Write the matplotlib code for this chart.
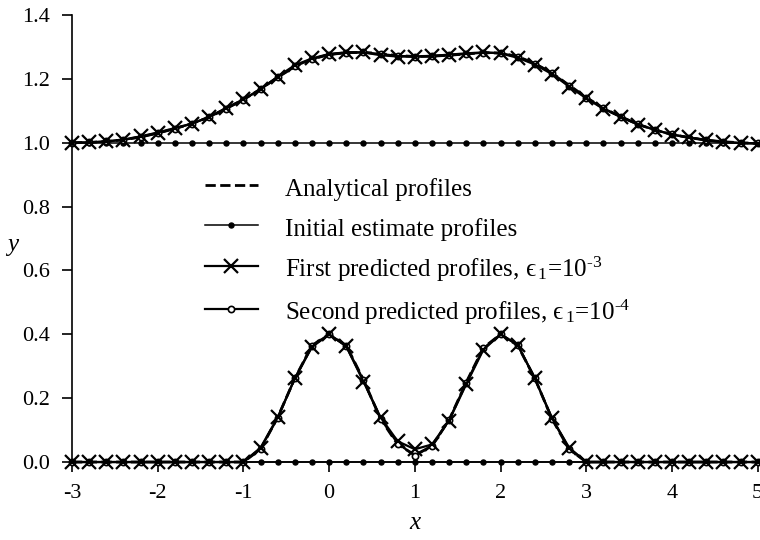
import matplotlib
matplotlib.use("Agg")
import matplotlib.pyplot as plt

plt.rcParams['font.family'] = ['Liberation Serif', 'DejaVu Serif']
plt.rcParams['mathtext.fontset'] = 'custom'
plt.rcParams['mathtext.rm'] = 'Liberation Serif'
plt.rcParams['mathtext.it'] = 'Liberation Serif:italic'
plt.rcParams['axes.unicode_minus'] = False

# ---- data ----
x_nodes = [-3.0, -2.8, -2.6, -2.4, -2.2, -2.0, -1.8, -1.6, -1.4, -1.2,
           -1.0, -0.8, -0.6, -0.4, -0.2, 0.0, 0.2, 0.4, 0.6, 0.8,
           1.0, 1.2, 1.4, 1.6, 1.8, 2.0, 2.2, 2.4, 2.6, 2.8,
           3.0, 3.2, 3.4, 3.6, 3.8, 4.0, 4.2, 4.4, 4.6, 4.8, 5.0]

upper_analytical = [1.000, 1.001, 1.004, 1.009, 1.018, 1.030, 1.044, 1.060, 1.080, 1.107,
                    1.135, 1.168, 1.205, 1.238, 1.262, 1.276, 1.282, 1.283, 1.279, 1.273,
                    1.270, 1.271, 1.274, 1.278, 1.282, 1.281, 1.270, 1.248, 1.218, 1.180,
                    1.142, 1.108, 1.082, 1.058, 1.040, 1.026, 1.016, 1.008, 1.003, 1.000, 0.998]
upper_first = [1.000, 1.001, 1.004, 1.010, 1.020, 1.032, 1.046, 1.060, 1.081, 1.109,
               1.136, 1.167, 1.207, 1.243, 1.264, 1.278, 1.283, 1.283, 1.274, 1.270,
               1.270, 1.272, 1.276, 1.280, 1.283, 1.280, 1.266, 1.245, 1.215, 1.176,
               1.139, 1.106, 1.081, 1.057, 1.041, 1.025, 1.017, 1.008, 1.002, 0.999, 0.997]
upper_second = [1.000, 1.001, 1.004, 1.009, 1.018, 1.030, 1.044, 1.060, 1.080, 1.107,
                1.135, 1.168, 1.205, 1.239, 1.262, 1.276, 1.282, 1.283, 1.278, 1.272,
                1.270, 1.271, 1.274, 1.278, 1.282, 1.281, 1.269, 1.248, 1.218, 1.179,
                1.141, 1.108, 1.082, 1.058, 1.040, 1.026, 1.016, 1.008, 1.003, 0.999, 0.998]

lower_analytical = [0.0, 0.0, 0.0, 0.0, 0.0, 0.0, 0.0, 0.0, 0.0, 0.0,
                    0.0, 0.040, 0.140, 0.262, 0.365, 0.400, 0.365, 0.258, 0.135, 0.055,
                    0.022, 0.050, 0.132, 0.250, 0.358, 0.400, 0.365, 0.262, 0.135, 0.040,
                    0.0, 0.0, 0.0, 0.0, 0.0, 0.0, 0.0, 0.0, 0.0, 0.0, 0.0]
lower_first = [0.0, 0.0, 0.0, 0.0, 0.0, 0.0, 0.0, 0.0, 0.0, 0.0,
               0.0, 0.045, 0.140, 0.262, 0.360, 0.400, 0.362, 0.252, 0.140, 0.065,
               0.040, 0.055, 0.130, 0.244, 0.352, 0.400, 0.367, 0.262, 0.137, 0.045,
               0.0, 0.0, 0.0, 0.0, 0.0, 0.0, 0.0, 0.0, 0.0, 0.0, 0.0]
lower_second = [0.0, 0.0, 0.0, 0.0, 0.0, 0.0, 0.0, 0.0, 0.0, 0.0,
                0.0, 0.042, 0.138, 0.262, 0.364, 0.400, 0.364, 0.256, 0.136, 0.058,
                0.020, 0.050, 0.132, 0.248, 0.356, 0.400, 0.366, 0.262, 0.136, 0.042,
                0.0, 0.0, 0.0, 0.0, 0.0, 0.0, 0.0, 0.0, 0.0, 0.0, 0.0]

initial_upper = [1.0] * len(x_nodes)
initial_lower = [0.0] * len(x_nodes)

labels = ['Analytical profiles',
          'Initial estimate profiles',
          'First predicted profiles, \u03f5$_{\\,1}$=10$^{\u2010 3}$',
          'Second predicted profiles, \u03f5$_{\\,1}$=10$^{\u2010 4}$']

x_ticks = [-3, -2, -1, 0, 1, 2, 3, 4, 5]
y_ticks = [0.0, 0.2, 0.4, 0.6, 0.8, 1.0, 1.2, 1.4]

# ---- figure ----
fig = plt.figure(figsize=(7.6, 5.4), dpi=100)
ax = fig.add_axes([0.0947, 0.1444, 0.9023, 0.8278])

k = dict(color='black', clip_on=False)
# analytical
ax.plot(x_nodes, upper_analytical, linestyle='--', linewidth=2.0, label=labels[0], zorder=2, **k)
ax.plot(x_nodes, lower_analytical, linestyle='--', linewidth=2.0, zorder=2, **k)
# initial
ax.plot(x_nodes, initial_upper, linestyle='-', linewidth=1.1, marker='o', markersize=3.6,
        label=labels[1], zorder=2.2, **k)
ax.plot(x_nodes, initial_lower, linestyle='-', linewidth=1.1, marker='o', markersize=3.6,
        zorder=2.2, **k)
# first predicted
ax.plot(x_nodes, upper_first, linestyle='-', linewidth=1.6, marker='x', markersize=10,
        markeredgewidth=1.6, label=labels[2], zorder=3, **k)
ax.plot(x_nodes, lower_first, linestyle='-', linewidth=1.6, marker='x', markersize=10,
        markeredgewidth=1.6, zorder=3, **k)
# second predicted
ax.plot(x_nodes, upper_second, linestyle='-', linewidth=1.6, marker='o', markersize=4.5,
        markerfacecolor='white', markeredgewidth=1.2, label=labels[3], zorder=2.5, **k)
ax.plot(x_nodes, lower_second, linestyle='-', linewidth=1.6, marker='o', markersize=4.5,
        markerfacecolor='white', markeredgewidth=1.2, zorder=2.5, **k)

ax.set_xlim(-3, 5)
ax.set_ylim(0, 1.4)
ax.set_xticks(x_ticks)
ax.set_xticklabels([str(t) for t in x_ticks])
ax.set_yticks(y_ticks)
ax.set_yticklabels(['%.1f' % t for t in y_ticks])

for s in ['top', 'right']:
    ax.spines[s].set_visible(False)
for s in ['left', 'bottom']:
    ax.spines[s].set_linewidth(1.2)

ax.tick_params(axis='both', direction='out', length=7, width=1.2, labelsize=16, pad=9)

ax.set_xlabel('x', fontsize=18, style='italic', labelpad=6)
ax.set_ylabel('y', fontsize=18, style='italic', rotation=0)
ax.yaxis.set_label_coords(-0.087, 0.46)

leg = ax.legend(loc='upper left', bbox_to_anchor=(0.27, 0.678), bbox_transform=fig.transFigure,
                frameon=False, fontsize=18, handlelength=2.1, handleheight=1.3,
                handletextpad=1.1, labelspacing=0.53, borderpad=0, borderaxespad=0)

fig.savefig('out.png', dpi=100)
